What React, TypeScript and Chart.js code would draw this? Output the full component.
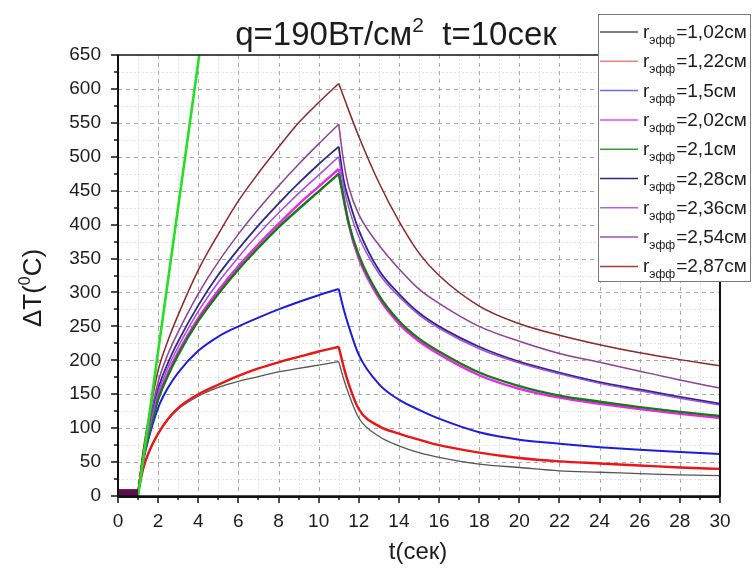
import React, { useEffect, useRef } from "react";
import { Chart, registerables } from "chart.js";

Chart.register(...registerables);

// ---- data ----
const T_RISE = [1, 1.25, 1.5, 2, 2.5, 3, 4, 5, 6, 7, 8, 9, 10, 11];
const T_DECAY = [11, 11.25, 11.5, 12, 13, 14, 15, 16, 18, 20, 22, 24, 26, 28, 30];

const LABELS = ["1,02", "1,22", "1,5", "2,02", "2,1", "2,28", "2,36", "2,54", "2,87"];

const RISE_102 = [4, 40, 62, 92, 113, 128, 147, 160, 169, 176, 183, 188, 193, 198];
const RISE_122 = [4, 40, 62, 92, 114, 130, 150, 164, 177, 188, 197, 205, 213, 220];
const RISE_150 = [4, 50, 82, 130, 160, 182, 214, 235, 250, 263, 275, 286, 296, 305];
const RISE_202 = [4, 55, 88, 145, 182, 212, 262, 303, 339, 371, 401, 430, 456, 482];
const RISE_210 = [4, 54, 86, 142, 178, 208, 258, 298, 334, 366, 396, 423, 449, 475];
const RISE_228 = [4, 58, 95, 158, 197, 228, 281, 326, 364, 399, 431, 461, 489, 515];
const RISE_236 = [4, 56, 92, 152, 190, 220, 272, 315, 352, 386, 417, 446, 473, 500];
const RISE_254 = [4, 60, 100, 168, 210, 242, 298, 345, 386, 423, 457, 489, 519, 548];
const RISE_287 = [4, 66, 110, 185, 230, 267, 333, 386, 435, 476, 514, 550, 580, 608];

const DECAY_102 = [198, 172, 150, 115, 88, 74, 64, 57, 47, 42, 37, 35, 33, 31, 30];
const DECAY_122 = [220, 190, 165, 128, 103, 92, 83, 75, 64, 56, 51, 48, 45, 42, 40];
const DECAY_150 = [305, 275, 250, 208, 165, 142, 127, 114, 94, 83, 77, 72, 68, 65, 62];
const DECAY_202 = [482, 440, 400, 350, 292, 254, 228, 209, 178, 158, 145, 136, 128, 121, 115];
const DECAY_210 = [475, 437, 402, 355, 296, 258, 232, 213, 182, 162, 148, 139, 131, 124, 118];
const DECAY_228 = [515, 465, 437, 392, 333, 298, 270, 250, 220, 198, 182, 168, 157, 146, 136];
const DECAY_236 = [500, 455, 425, 382, 328, 294, 267, 247, 217, 196, 180, 166, 155, 144, 134];
const DECAY_254 = [548, 492, 455, 415, 370, 335, 305, 284, 250, 228, 210, 197, 184, 171, 159];
const DECAY_287 = [608, 588, 568, 530, 462, 405, 358, 325, 280, 254, 237, 223, 211, 201, 192];

// initial segment (0..1 s) and heating ramp line
const BAND_T = [0, 1];
const BAND_V = [5, 5];
const RAMP_T = [1, 4.05];
const RAMP_V = [0, 650];

const X_TICKS = [0, 2, 4, 6, 8, 10, 12, 14, 16, 18, 20, 22, 24, 26, 28, 30];
const Y_TICKS = [0, 50, 100, 150, 200, 250, 300, 350, 400, 450, 500, 550, 600, 650];

// ---- styles ----
const COLORS = ["#555555", "#ee1414", "#1c1ce0", "#ee22ee", "#157a15", "#2a2a82", "#a64ae6", "#8e3e9c", "#902626"];
const LEGEND_COLORS = ["#555555", "#f08080", "#6a6aff", "#ee44ee", "#3a9a3a", "#2a2a82", "#b060f0", "#a050b0", "#a04040"];
const WIDTHS = [1.3, 2.4, 2.0, 2.4, 2.4, 1.8, 1.5, 1.5, 1.5];

const RISES = [RISE_102, RISE_122, RISE_150, RISE_202, RISE_210, RISE_228, RISE_236, RISE_254, RISE_287];
const DECAYS = [DECAY_102, DECAY_122, DECAY_150, DECAY_202, DECAY_210, DECAY_228, DECAY_236, DECAY_254, DECAY_287];

const FONT = '"Liberation Sans", Arial, sans-serif';
const TEXT = "#1c1c1c";

function pts(xs: number[], ys: number[]) {
  return xs.map((x, i) => ({ x, y: ys[i] }));
}

const decorPlugin = {
  id: "decor",
  beforeDatasetsDraw(chart: any) {
    const { ctx, chartArea: a, scales } = chart;
    const xs = scales.x, ys = scales.y;
    ctx.save();
    ctx.lineWidth = 1;
    // minor grid
    ctx.strokeStyle = "#e2e2e2";
    ctx.setLineDash([2, 2]);
    for (let v = 1; v < 30; v += 2) {
      const px = Math.round(xs.getPixelForValue(v)) + 0.5;
      ctx.beginPath(); ctx.moveTo(px, a.top); ctx.lineTo(px, a.bottom); ctx.stroke();
    }
    for (let v = 25; v < 650; v += 50) {
      const py = Math.round(ys.getPixelForValue(v)) + 0.5;
      ctx.beginPath(); ctx.moveTo(a.left, py); ctx.lineTo(a.right, py); ctx.stroke();
    }
    // major grid
    ctx.strokeStyle = "#a8a8a8";
    ctx.setLineDash([4, 4]);
    X_TICKS.forEach((v) => {
      if (v === 0 || v === 30) return;
      const px = Math.round(xs.getPixelForValue(v)) + 0.5;
      ctx.beginPath(); ctx.moveTo(px, a.top); ctx.lineTo(px, a.bottom); ctx.stroke();
    });
    Y_TICKS.forEach((v) => {
      if (v === 0 || v === 650) return;
      const py = Math.round(ys.getPixelForValue(v)) + 0.5;
      ctx.beginPath(); ctx.moveTo(a.left, py); ctx.lineTo(a.right, py); ctx.stroke();
    });
    ctx.restore();
  },
  afterDraw(chart: any) {
    const { ctx, chartArea: a, scales } = chart;
    const xs = scales.x, ys = scales.y;
    ctx.save();
    ctx.setLineDash([]);
    // frame
    ctx.strokeStyle = "#111";
    ctx.lineWidth = 1.5;
    ctx.strokeRect(a.left, a.top, a.right - a.left, a.bottom - a.top);
    ctx.lineWidth = 2;
    ctx.beginPath();
    ctx.moveTo(a.left, a.top); ctx.lineTo(a.left, a.bottom + 1); ctx.lineTo(a.right, a.bottom + 1);
    ctx.stroke();
    ctx.beginPath(); ctx.moveTo(a.right, a.top); ctx.lineTo(a.right, a.bottom); ctx.stroke();
    // ticks
    ctx.lineWidth = 1.5;
    for (let v = 0; v <= 30; v += 1) {
      const px = Math.round(xs.getPixelForValue(v));
      const len = v % 2 === 0 ? 7 : 4;
      ctx.beginPath(); ctx.moveTo(px, a.bottom); ctx.lineTo(px, a.bottom + len); ctx.stroke();
    }
    for (let v = 0; v <= 650; v += 25) {
      const py = Math.round(ys.getPixelForValue(v));
      const len = v % 50 === 0 ? 7 : 4;
      ctx.beginPath(); ctx.moveTo(a.left, py); ctx.lineTo(a.left - len, py); ctx.stroke();
    }

    ctx.fillStyle = TEXT;
    ctx.textBaseline = "alphabetic";
    // title
    const big = "33px " + FONT, sup = "21px " + FONT;
    ctx.font = big;
    const p1 = "q=190Вт/см", p3 = "  t=10сек";
    const w1 = ctx.measureText(p1).width, w3 = ctx.measureText(p3).width;
    ctx.font = sup;
    const w2 = ctx.measureText("2").width;
    let tx = 396 - (w1 + w2 + w3) / 2;
    const ty = 45;
    ctx.font = big; ctx.textAlign = "left";
    ctx.fillText(p1, tx, ty); tx += w1;
    ctx.font = sup; ctx.fillText("2", tx, ty - 13); tx += w2;
    ctx.font = big; ctx.fillText(p3, tx, ty);

    // x title
    ctx.font = "24px " + FONT;
    ctx.textAlign = "center";
    ctx.fillText("t(сек)", 418, 559);

    // y title
    ctx.save();
    ctx.translate(41, 288);
    ctx.rotate(-Math.PI / 2);
    const yf = "26px " + FONT, ysf = "16px " + FONT;
    ctx.font = yf;
    const q1 = "ΔT(", q3 = "C)";
    const v1 = ctx.measureText(q1).width, v3 = ctx.measureText(q3).width;
    ctx.font = ysf;
    const v2 = ctx.measureText("0").width;
    let yx = -(v1 + v2 + v3) / 2;
    ctx.textAlign = "left";
    ctx.font = yf; ctx.fillText(q1, yx, 0); yx += v1;
    ctx.font = ysf; ctx.fillText("0", yx, -11); yx += v2;
    ctx.font = yf; ctx.fillText(q3, yx, 0);
    ctx.restore();

    // legend
    const lx = 598, ly = 14, lw = 153, lh = 268;
    ctx.fillStyle = "#ffffff";
    ctx.fillRect(lx, ly, lw, lh);
    ctx.strokeStyle = "#7a7a7a";
    ctx.lineWidth = 1;
    ctx.strokeRect(lx + 0.5, ly + 0.5, lw - 1, lh - 1);
    const step = 29.3;
    LABELS.forEach((lab, i) => {
      const cy = ly + 18 + i * step;
      ctx.strokeStyle = LEGEND_COLORS[i];
      ctx.lineWidth = 1.5;
      ctx.beginPath(); ctx.moveTo(lx + 2, cy); ctx.lineTo(lx + 40, cy); ctx.stroke();
      ctx.fillStyle = TEXT;
      ctx.textAlign = "left";
      let x = lx + 45;
      const base = cy + 6;
      ctx.font = "19px " + FONT;
      ctx.fillText("r", x, base); x += ctx.measureText("r").width;
      ctx.font = "12px " + FONT;
      ctx.fillText("эфф", x, base + 6); x += ctx.measureText("эфф").width + 1;
      ctx.font = "19px " + FONT;
      ctx.fillText("=" + lab + "см", x, base);
    });
    ctx.restore();
  },
};

export default function App() {
  const ref = useRef<HTMLCanvasElement | null>(null);
  useEffect(() => {
    const prevMargin = document.body.style.margin;
    document.body.style.margin = "0";
    const datasets: any[] = [];
    datasets.push({
      data: pts(BAND_T, BAND_V), borderColor: "#600c50", borderWidth: 7,
      pointRadius: 0, order: 0,
    });
    datasets.push({
      data: pts(RAMP_T, RAMP_V), borderColor: "#22e022", borderWidth: 2.6,
      pointRadius: 0, order: 1,
    });
    RISES.forEach((r, i) => {
      const common = {
        borderColor: COLORS[i], borderWidth: WIDTHS[i], pointRadius: 0,
        cubicInterpolationMode: "monotone", order: 20 - i,
      };
      datasets.push({ ...common, data: pts(T_RISE, r) });
      datasets.push({ ...common, data: pts(T_DECAY, DECAYS[i]) });
    });
    const chart = new Chart(ref.current as HTMLCanvasElement, {
      type: "line",
      data: { datasets },
      options: {
        animation: false,
        responsive: false,
        devicePixelRatio: 1,
        layout: { padding: { top: 55, right: 32, left: 0, bottom: 0 } },
        plugins: { legend: { display: false }, tooltip: { enabled: false }, title: { display: false } },
        scales: {
          x: {
            type: "linear", min: 0, max: 30,
            grid: { display: false }, border: { display: false },
            ticks: { stepSize: 2, padding: 6, color: TEXT, font: { size: 19, family: FONT } },
            afterFit: (s: any) => { s.height = 74; },
          },
          y: {
            type: "linear", min: 0, max: 650,
            grid: { display: false }, border: { display: false },
            ticks: { stepSize: 50, padding: 9, color: TEXT, font: { size: 19, family: FONT } },
            afterFit: (s: any) => { s.width = 118; },
          },
        },
      } as any,
      plugins: [decorPlugin],
    });
    return () => {
      chart.destroy();
      document.body.style.margin = prevMargin;
    };
  }, []);
  return (
    <div style={{ position: "fixed", left: 0, top: 0, width: 752, height: 570, background: "#fff" }}>
      <canvas ref={ref} width={752} height={570} />
    </div>
  );
}
